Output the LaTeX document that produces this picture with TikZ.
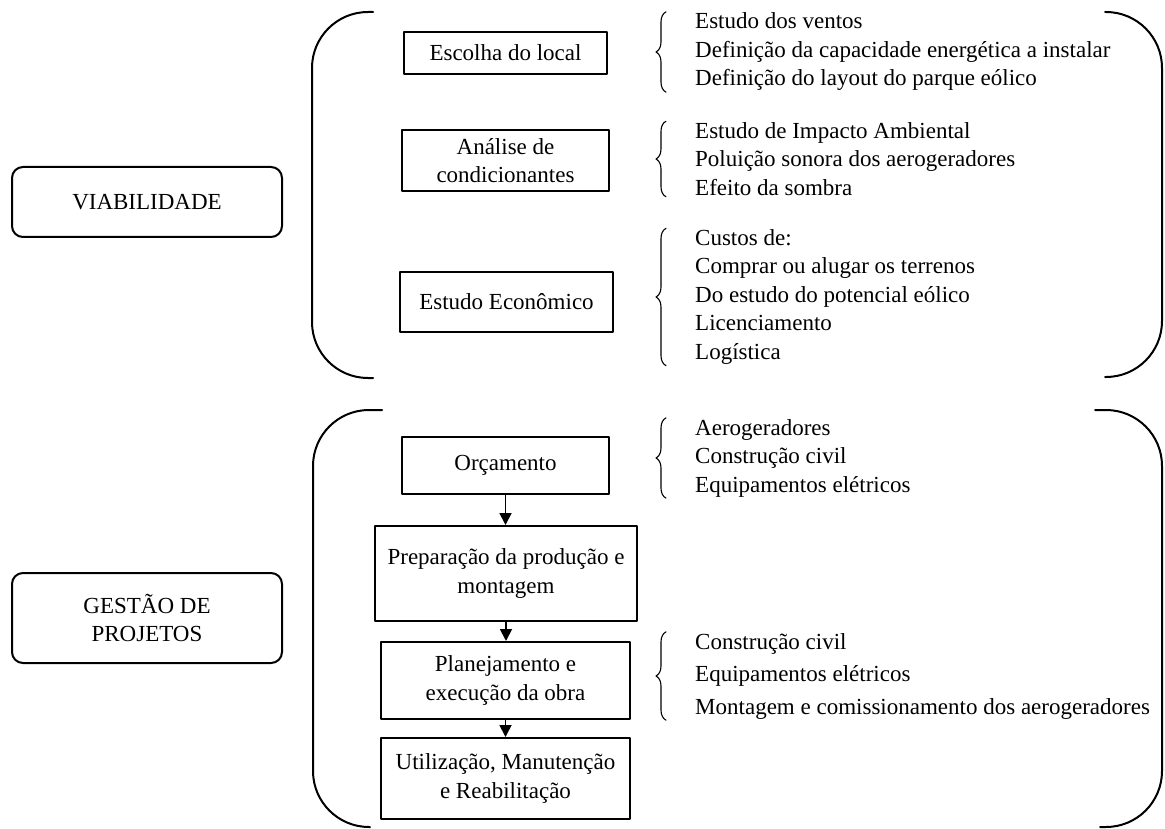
\documentclass[tikz,border=0pt]{standalone}
\usepackage{fontspec}
\setmainfont{Liberation Serif}
\usetikzlibrary{arrows.meta}
\usetikzlibrary{decorations.pathreplacing}
\usetikzlibrary{positioning}

\begin{document}
\begin{tikzpicture}[line cap=round,line join=round,x=1pt,y=-1pt,
  font=\fontsize{23}{28.5}\selectfont,
  fase/.style={draw,line width=2pt,rounded corners=11pt,minimum width=270pt,align=center,inner sep=0pt},
  etapa/.style={draw,line width=2pt,align=center,inner sep=0pt},
  lista/.style={align=left,anchor=west,inner xsep=0pt,inner ysep=1pt},
  chave/.style={decorate,decoration={brace,amplitude=10pt},line width=1.1pt},
  colchete/.style={line width=2pt,rounded corners=56pt},
  seta/.style={-{Triangle[length=12pt,width=12pt]},line width=1.8pt}]
\useasboundingbox (0,0) rectangle (1165,829);
\node[fase,minimum height=70pt] (viab) at (147,202) {VIABILIDADE};
\node[fase,minimum height=90pt] (gestao) at (147,618) {GESTÃO DE\\PROJETOS};
\draw[colchete] (373,12) -- (312,12) -- (312,378) -- (373,378);
\draw[colchete] (1105,12) -- (1162,12) -- (1162,377) -- (1105,377);
\draw[colchete] (382,410) -- (313,410) -- (313,827) -- (370,827);
\draw[colchete] (1095,410) -- (1162,410) -- (1162,827) -- (1100,827);
\node[etapa,minimum width=203pt,minimum height=42pt] (escolha) at (505.5,53) {Escolha do local};
\node[etapa,minimum width=207pt,minimum height=61pt] (analise) at (505.5,160.5) {Análise de\\condicionantes};
\node[etapa,minimum width=213pt,minimum height=60pt] (economico) at (506.5,302) {Estudo Econômico};
\node[etapa,minimum width=207pt,minimum height=57pt] (orcamento) at (505.5,465.5) {Orçamento};
\node[etapa,minimum width=262pt,minimum height=95pt] (preparacao) at (506,573.5) {Preparação da produção e\\montagem};
\node[etapa,minimum width=249pt,minimum height=77pt] (planejamento) at (505.5,680.5) {Planejamento e\\execução da obra};
\node[etapa,minimum width=249pt,minimum height=81pt] (utilizacao) at (505.5,778.5) {Utilização, Manutenção\\e Reabilitação};
\draw[seta] (orcamento.south) -- (orcamento.south |- preparacao.north);
\draw[seta] (preparacao.south) -- (preparacao.south |- planejamento.north);
\draw[seta] (planejamento.south) -- (planejamento.south |- utilizacao.north);
\node[lista] (local) at (695,52) {Estudo dos ventos\\Definição da capacidade energética a instalar\\Definição do layout do parque eólico};
\node[lista] (condic) at (695,159) {Estudo de Impacto Ambiental\\Poluição sonora dos aerogeradores\\Efeito da sombra};
\node[lista] (custos) at (695,297) {Custos de:\\Comprar ou alugar os terrenos\\Do estudo do potencial eólico\\Licenciamento\\Logística};
\node[lista] (orcam) at (695,458) {Aerogeradores\\Construção civil\\Equipamentos elétricos};
\node[lista] (obra) at (695,676) {Construção civil\\[4pt]Equipamentos elétricos\\[4pt]Montagem e comissionamento dos aerogeradores};
\draw[chave] ([xshift=-29pt]local.south west) -- ([xshift=-29pt]local.north west);
\draw[chave] ([xshift=-29pt]condic.south west) -- ([xshift=-29pt]condic.north west);
\draw[chave] ([xshift=-29pt]custos.south west) -- ([xshift=-29pt]custos.north west);
\draw[chave] ([xshift=-29pt]orcam.south west) -- ([xshift=-29pt]orcam.north west);
\draw[chave] ([xshift=-29pt]obra.south west) -- ([xshift=-29pt]obra.north west);
\end{tikzpicture}
\end{document}
